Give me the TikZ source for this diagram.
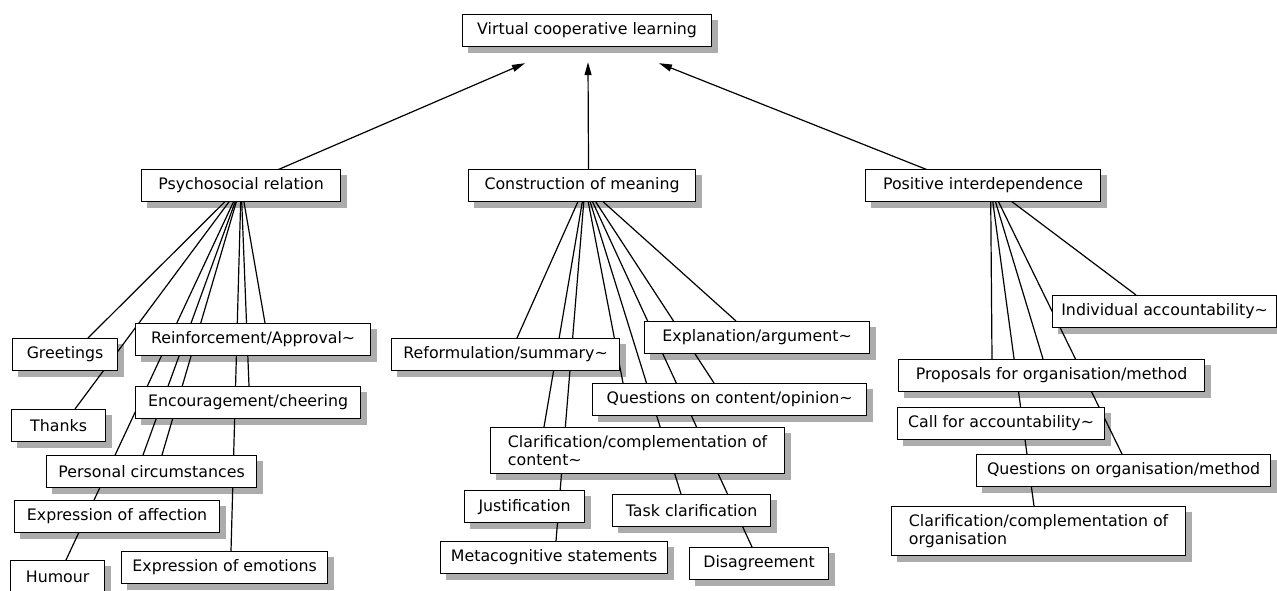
\documentclass[tikz,border=0pt]{standalone}
\usepackage{fontspec}
\setmainfont{DejaVu Sans}
\usetikzlibrary{arrows.meta}
\pgfdeclarelayer{shade}
\pgfdeclarelayer{back}
\pgfsetlayers{shade,back,main}
\newcommand{\tild}{\textasciitilde}

\begin{document}
\begin{tikzpicture}[x=1pt,y=-1pt,>={Triangle[length=13pt,width=7pt]},line width=1.2pt,
	box/.style={draw,fill=white,anchor=north west,inner xsep=8pt,inner ysep=8pt,
		minimum height=32pt,align=left,font=\fontsize{15.8}{17.5}\selectfont},
	link/.style={line width=1.2pt}]
	\useasboundingbox (0,0) rectangle (1277,590);
	\node[box,minimum width=249pt](vcl) at (462,14){Virtual cooperative learning};
	\node[box,minimum width=199pt](psy) at (141,169){Psychosocial relation};
	\node[box,minimum width=227pt](con) at (468,169){Construction of meaning};
	\node[box,minimum width=235pt](pos) at (865,169){Positive interdependence};
	
	\node[box,minimum width=105pt](greet) at (12,338){Greetings};
	\node[box,minimum width=235pt](reinf) at (135,323){Reinforcement/Approval\tild};
	\node[box,minimum width=94pt](thanks) at (11,409){Thanks};
	\node[box,minimum width=225pt](encour) at (135,386){Encouragement/cheering};
	\node[box,minimum width=210pt](pers) at (46,455){Personal circumstances};
	\node[box,minimum width=205pt](affec) at (14,500){Expression of affection};
	\node[box,minimum width=94pt](hum) at (10,560){Humour};
	\node[box,minimum width=206pt](emot) at (121,551){Expression of emotions};
	
	\node[box,minimum width=228pt](reform) at (391,338){Reformulation/summary\tild};
	\node[box,minimum width=225pt](expl) at (644,321){Explanation/argument\tild};
	\node[box,minimum width=274pt](quest) at (592,383){Questions on content/opinion\tild};
	\node[box,minimum width=294pt](clar) at (490,427){Clarification/complementation of\\content\tild};
	\node[box,minimum width=120pt](just) at (464,490){Justification};
	\node[box,minimum width=158pt](task) at (612,494){Task clarification};
	\node[box,minimum width=227pt](meta) at (440,541){Metacognitive statements};
	\node[box,minimum width=139pt](disag) at (689,547){Disagreement};
	
	\node[box,minimum width=224pt](indiv) at (1052,295){Individual accountability\tild};
	\node[box,minimum width=306pt](prop) at (898,359){Proposals for organisation/method};
	\node[box,minimum width=207pt](call) at (897,407){Call for accountability\tild};
	\node[box,minimum width=294pt](qorg) at (976,454){Questions on organisation/method};
	\node[box,minimum width=294pt](corg) at (891,506){Clarification/complementation of\\organisation};
	
	\begin{pgfonlayer}{shade}
		\foreach \n in {vcl,psy,con,pos,greet,reinf,thanks,encour,pers,affec,hum,emot,
			reform,expl,quest,clar,just,task,meta,disag,indiv,prop,call,qorg,corg}
		\fill[gray!65] ([shift={(6pt,-6pt)}]\n.south west) rectangle ([shift={(6pt,-6pt)}]\n.north east);
	\end{pgfonlayer}
	
	\begin{pgfonlayer}{back}
		\path[link,->] (psy.center) edge ([shift={(63pt,-16pt)}]vcl.south west)
			([xshift=6.5pt]con.center) edge ([shift={(126pt,-15pt)}]vcl.south west)
			([xshift=-16pt]pos.center) edge ([shift={(197pt,-16pt)}]vcl.south west);
		
		\path[link] (psy.center) edge ([xshift=76pt]greet.north west)
			edge ([xshift=64pt]thanks.north west)
			edge ([xshift=56pt]hum.north west)
			edge ([xshift=97pt]pers.north west)
			edge ([xshift=116pt]pers.north west)
			edge ([xshift=110pt]emot.north west)
			edge ([xshift=114pt]encour.north west)
			edge ([xshift=130pt]reinf.north west);
		
		\path[link] ([xshift=3pt]con.center) edge ([xshift=126pt]reform.north west)
			edge ([xshift=54pt]clar.north west)
			edge ([xshift=116pt]meta.north west)
			edge ([xshift=31pt]quest.north west)
			edge ([xshift=69pt]task.north west)
			edge ([xshift=63pt]disag.north west)
			edge ([xshift=122pt]quest.north west)
			edge ([xshift=92pt]expl.north west);
		
		\path[link] ([xshift=7.5pt]pos.center) edge ([xshift=84pt]indiv.north west)
			edge ([xshift=94pt]prop.north west)
			edge ([xshift=145pt]prop.north west)
			edge ([xshift=146pt]qorg.north west)
			edge ([xshift=143pt]corg.north west);
	\end{pgfonlayer}
\end{tikzpicture}
\end{document}
